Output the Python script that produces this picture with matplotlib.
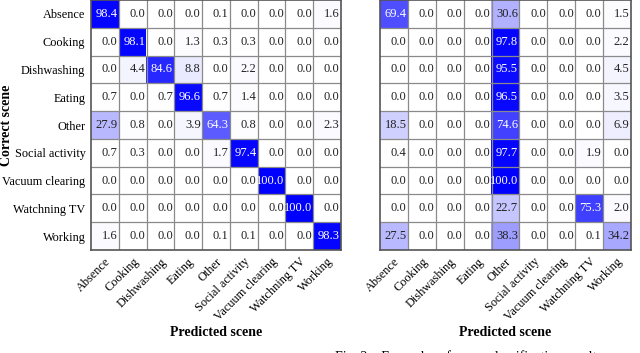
import matplotlib
matplotlib.use("Agg")
import matplotlib.pyplot as plt
from matplotlib.colors import LinearSegmentedColormap
import numpy as np

plt.rcParams['font.family'] = ['Liberation Serif', 'DejaVu Serif']

# scene labels
scenes = ['Absence', 'Cooking', 'Dishwashing', 'Eating', 'Other',
          'Social activity', 'Vacuum clearing', 'Watchning TV', 'Working']

# confusion matrix values (%), rows = correct, cols = predicted
left_cm = [
    [98.4, 0.0, 0.0, 0.0, 0.1, 0.0, 0.0, 0.0, 1.6],
    [0.0, 98.1, 0.0, 1.3, 0.3, 0.3, 0.0, 0.0, 0.0],
    [0.0, 4.4, 84.6, 8.8, 0.0, 2.2, 0.0, 0.0, 0.0],
    [0.7, 0.0, 0.7, 96.6, 0.7, 1.4, 0.0, 0.0, 0.0],
    [27.9, 0.8, 0.0, 3.9, 64.3, 0.8, 0.0, 0.0, 2.3],
    [0.7, 0.3, 0.0, 0.0, 1.7, 97.4, 0.0, 0.0, 0.0],
    [0.0, 0.0, 0.0, 0.0, 0.0, 0.0, 100.0, 0.0, 0.0],
    [0.0, 0.0, 0.0, 0.0, 0.0, 0.0, 0.0, 100.0, 0.0],
    [1.6, 0.0, 0.0, 0.0, 0.1, 0.1, 0.0, 0.0, 98.3],
]
right_cm = [
    [69.4, 0.0, 0.0, 0.0, 30.6, 0.0, 0.0, 0.0, 1.5],
    [0.0, 0.0, 0.0, 0.0, 97.8, 0.0, 0.0, 0.0, 2.2],
    [0.0, 0.0, 0.0, 0.0, 95.5, 0.0, 0.0, 0.0, 4.5],
    [0.0, 0.0, 0.0, 0.0, 96.5, 0.0, 0.0, 0.0, 3.5],
    [18.5, 0.0, 0.0, 0.0, 74.6, 0.0, 0.0, 0.0, 6.9],
    [0.4, 0.0, 0.0, 0.0, 97.7, 0.0, 0.0, 1.9, 0.0],
    [0.0, 0.0, 0.0, 0.0, 100.0, 0.0, 0.0, 0.0, 0.0],
    [0.0, 0.0, 0.0, 0.0, 22.7, 0.0, 0.0, 75.3, 2.0],
    [27.5, 0.0, 0.0, 0.0, 38.3, 0.0, 0.0, 0.1, 34.2],
]

cmap = LinearSegmentedColormap.from_list('wb', ['#ffffff', '#0000ff'])

W, H = 640, 353
fig = plt.figure(figsize=(W / 100, H / 100), dpi=100)


def draw_cm(ax, cm, ylabels):
    cm = np.array(cm)
    n = cm.shape[0]
    ax.imshow(cm, cmap=cmap, vmin=0, vmax=100, aspect='auto')
    for i in range(n):
        for j in range(n):
            v = cm[i, j]
            ax.text(j + 0.45, i, '%.1f' % v, ha='right', va='center', fontsize=9,
                    color='white' if v > 50 else '#222222')
    # cell grid
    for k in range(1, n):
        ax.axhline(k - 0.5, color='#8a8a8a', lw=0.9)
        ax.axvline(k - 0.5, color='#8a8a8a', lw=0.9)
    for s in ax.spines.values():
        s.set_color('#555555')
        s.set_linewidth(1.2)
    ax.set_xticks(range(n))
    ax.set_xticklabels(scenes, rotation=45, ha='right', rotation_mode='anchor', fontsize=8.8)
    ax.set_yticks(range(n))
    if ylabels:
        ax.set_yticklabels(scenes, fontsize=8.8)
        ax.set_ylabel('Correct scene', fontsize=10, fontweight='bold')
        ax.yaxis.set_label_coords(-0.31, 0.5)
    else:
        ax.set_yticklabels([])
    ax.tick_params(length=0, pad=4)
    ax.set_xlabel('Predicted scene', fontsize=10, fontweight='bold', labelpad=2)


ax1 = fig.add_axes([91 / W, (H - 250) / H, 250 / W, 250 / H])
draw_cm(ax1, left_cm, True)
ax2 = fig.add_axes([380 / W, (H - 250) / H, 251 / W, 250 / H])
draw_cm(ax2, right_cm, False)

# caption cut off at the bottom edge
fig.text(335 / W, 1 - 350 / H, 'Fig. 2.   Examples of scene classification results',
         ha='left', va='top', fontsize=10)

fig.savefig('out.png', dpi=100)
